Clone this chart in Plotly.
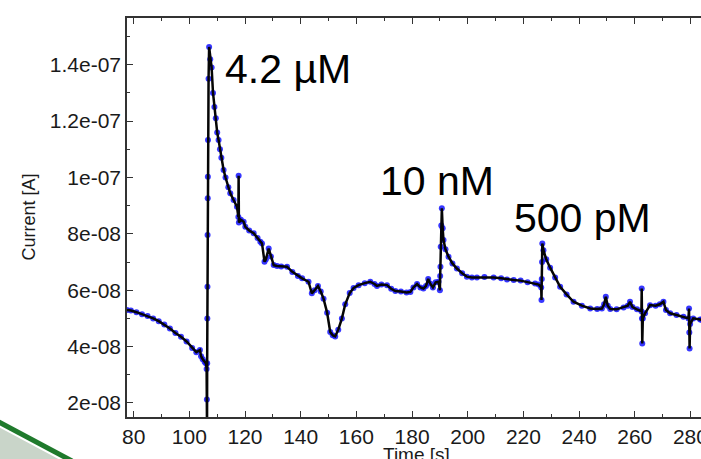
import plotly.graph_objects as go

# ---- data ----
time_s = [
    77.6, 79, 81, 83, 85, 87, 89, 91, 93, 95, 97, 99, 101, 102.5, 103.8, 104.2, 104.8, 105.5, 106.0,
    106.2, 106.3, 106.35, 106.4, 106.45, 106.5, 106.55, 106.6, 106.65, 106.7, 106.9, 107.1,
    107.5, 108.0, 108.5, 109.0, 109.5, 110.0, 110.5, 111.0, 111.5, 112.3, 113.0, 114.0, 114.7,
    115.9, 117.1, 117.6, 117.7, 117.8, 118.5, 119.5, 120.1, 121.5, 123.1, 124.5, 125.5, 126.1,
    127.0, 127.5, 128.5, 129.3, 130.3, 131.5, 133, 135.1, 137, 139, 140.5, 142.8, 144.0, 145.0,
    146.2, 147.2, 148.2, 149.5, 150.6, 151.5, 152.4, 153.5, 154.8, 156.0, 157.6, 159.0, 160.8,
    163, 165, 166.5, 167.4, 169, 171, 172.5, 174, 176, 178, 179.4, 180.5, 181.8, 183, 184.1,
    185, 185.8, 186.5, 187.5, 188.5, 189.5, 190.0, 190.1, 190.2, 190.3, 190.5, 190.7, 191.0,
    191.3, 192.0, 193.1, 194.5, 196.1, 198, 199.7, 201.5, 203.3, 206, 209.3, 212, 214.1, 216.5,
    219, 221.5, 224.2, 225.5, 226.4, 226.5, 226.6, 226.7, 226.8, 227.2, 228.2, 229.6, 231.4,
    233.2, 235.5, 238, 241, 244, 246.5, 248.2, 249.0, 249.6, 250.3, 251.2, 253.5, 256, 257.5,
    258.3, 259.2, 260.8, 262.4, 262.5, 262.6, 262.7, 262.9, 263.7, 265.5, 267.5, 269.0, 270.3,
    271.2, 272.7, 275, 277.5, 279.3, 279.5, 279.6, 279.7, 279.9, 281, 283.5, 284.0,
]
current_A = [
    5.30e-8, 5.28e-8, 5.22e-8, 5.15e-8, 5.08e-8, 5.00e-8, 4.90e-8, 4.78e-8, 4.64e-8, 4.48e-8,
    4.35e-8, 4.18e-8, 3.95e-8, 3.80e-8, 3.88e-8, 3.66e-8, 3.55e-8, 3.45e-8, 3.40e-8,
    3.20e-8, 2.12e-8, 1.00e-8, 3.41e-8, 5.00e-8, 6.12e-8, 7.96e-8, 9.26e-8, 10.03e-8, 11.33e-8,
    13.5e-8, 14.63e-8,
    14.2e-8, 13.9e-8, 13.0e-8, 12.5e-8, 12.1e-8, 11.6e-8, 11.33e-8, 11.0e-8, 10.7e-8, 10.27e-8,
    10.0e-8, 9.65e-8, 9.44e-8,
    9.20e-8, 8.96e-8, 8.60e-8, 10.06e-8, 8.40e-8, 8.50e-8, 8.43e-8, 8.25e-8, 8.12e-8, 8.02e-8,
    7.85e-8, 7.72e-8, 7.66e-8,
    7.01e-8, 7.10e-8, 7.48e-8, 7.20e-8, 6.89e-8, 6.86e-8, 6.84e-8, 6.83e-8, 6.65e-8, 6.50e-8,
    6.42e-8, 6.30e-8, 5.89e-8, 6.00e-8,
    6.15e-8, 5.95e-8, 5.70e-8, 5.20e-8, 4.52e-8, 4.40e-8, 4.36e-8, 4.60e-8, 5.00e-8, 5.50e-8,
    5.90e-8, 6.08e-8, 6.18e-8,
    6.25e-8, 6.30e-8, 6.22e-8, 6.15e-8, 6.20e-8, 6.18e-8, 6.05e-8, 5.97e-8, 5.95e-8, 5.92e-8,
    5.94e-8, 6.10e-8, 6.22e-8, 6.10e-8, 6.06e-8,
    6.15e-8, 6.40e-8, 6.24e-8, 6.10e-8, 6.28e-8, 6.30e-8, 6.00e-8, 6.50e-8, 6.83e-8, 7.54e-8,
    8.30e-8, 8.91e-8, 8.20e-8,
    7.78e-8, 7.45e-8, 7.19e-8, 6.95e-8, 6.77e-8, 6.60e-8, 6.48e-8, 6.45e-8, 6.45e-8, 6.47e-8,
    6.45e-8, 6.42e-8, 6.38e-8, 6.36e-8,
    6.34e-8, 6.28e-8, 6.24e-8, 6.20e-8, 6.10e-8, 5.65e-8, 6.40e-8, 7.00e-8, 7.66e-8, 7.42e-8,
    7.10e-8, 6.80e-8, 6.45e-8,
    6.12e-8, 5.85e-8, 5.59e-8, 5.45e-8, 5.35e-8, 5.33e-8, 5.35e-8, 5.50e-8, 5.77e-8, 5.45e-8,
    5.33e-8, 5.32e-8, 5.39e-8, 5.45e-8,
    5.59e-8, 5.40e-8, 5.32e-8, 5.25e-8, 6.06e-8, 5.00e-8, 4.11e-8, 5.00e-8, 5.18e-8, 5.47e-8,
    5.45e-8, 5.50e-8, 5.59e-8,
    5.30e-8, 5.18e-8, 5.12e-8, 5.06e-8, 5.00e-8, 5.35e-8, 4.50e-8, 3.93e-8, 4.80e-8, 5.00e-8,
    4.96e-8, 4.95e-8,
]

x_tick_vals = [80, 100, 120, 140, 160, 180, 200, 220, 240, 260, 280]
y_tick_vals = [2e-8, 4e-8, 6e-8, 8e-8, 1e-7, 1.2e-7, 1.4e-7]
y_tick_text = ["2e-08", "4e-08", "6e-08", "8e-08", "1e-07", "1.2e-07", "1.4e-07"]

label_texts = ["4.2 µM", "10 nM", "500 pM"]
label_times = [112.0, 167.8, 215.9]
label_currents = [13.85e-8, 9.88e-8, 8.58e-8]

FONT = "Liberation Sans, Arial, sans-serif"

fig = go.Figure()
fig.add_trace(go.Scatter(
    x=time_s, y=current_A, mode="markers",
    marker=dict(color="rgba(20,20,255,0.85)", size=6, line=dict(width=0)),
    showlegend=False, hoverinfo="skip",
))
fig.add_trace(go.Scatter(
    x=time_s, y=current_A, mode="lines",
    line=dict(color="#050505", width=2.5),
    showlegend=False,
))

for txt, tx, ty in zip(label_texts, label_times, label_currents):
    fig.add_annotation(x=tx, y=ty, text=txt, showarrow=False, xanchor="left",
                       yanchor="middle", font=dict(family=FONT, size=41, color="black"))

# slide decoration (green stripe bottom-left)
W, H = 701, 459
L, R, T, B = 127, 0, 18, 42
pw, ph = W - L - R, H - T - B
def px(x):
    return (x - L) / pw
def py(y):
    return (H - B - y) / ph
fig.add_shape(type="path", xref="paper", yref="paper",
              path=f"M {px(-5)},{py(425)} L {px(64)},{py(462)} L {px(-5)},{py(462)} Z",
              fillcolor="#c9d5c9", line=dict(width=0), layer="below")
fig.add_shape(type="line", xref="paper", yref="paper",
              x0=px(-5), y0=py(420), x1=px(72), y1=py(461),
              line=dict(color="#1f7a2c", width=5))

# axis titles as annotations for exact placement
fig.add_annotation(xref="paper", yref="paper", x=px(416), y=py(442), text="Time [s]",
                   showarrow=False, xanchor="center", yanchor="top",
                   font=dict(family=FONT, size=19, color="#1a1a1a"))
fig.add_annotation(xref="paper", yref="paper", x=px(28), y=py(217.5), text="Current [A]",
                   showarrow=False, xanchor="center", yanchor="middle", textangle=-90,
                   font=dict(family=FONT, size=18, color="#1a1a1a"))

axis_common = dict(
    showgrid=False, zeroline=False, showline=True, linecolor="#333", linewidth=1.5,
    ticks="inside", ticklen=6, tickwidth=1.2, tickcolor="#333", automargin=False,
    tickfont=dict(family=FONT, size=21, color="#1a1a1a"), ticklabeloverflow="allow",
)
fig.update_xaxes(
    range=[77.6, 283.8], tickmode="array", tickvals=x_tick_vals, mirror="ticks",
    minor=dict(dtick=10, tick0=80, ticks="inside", ticklen=3, tickcolor="#333"),
    **axis_common,
)
fig.update_yaxes(
    range=[1.50e-8, 1.566e-7], tickmode="array", tickvals=y_tick_vals, ticktext=y_tick_text,
    mirror=False,
    minor=dict(dtick=1e-8, tick0=0, ticks="inside", ticklen=3, tickcolor="#333"),
    **axis_common,
)
fig.update_layout(
    width=W, height=H, margin=dict(l=L, r=R, t=T, b=B, pad=0),
    paper_bgcolor="white", plot_bgcolor="white",
    font=dict(family=FONT),
)
fig.write_html(
    "out.html",
    config={"displayModeBar": False},
    post_script="document.body.style.margin='0';document.body.style.overflow='hidden';",
)
